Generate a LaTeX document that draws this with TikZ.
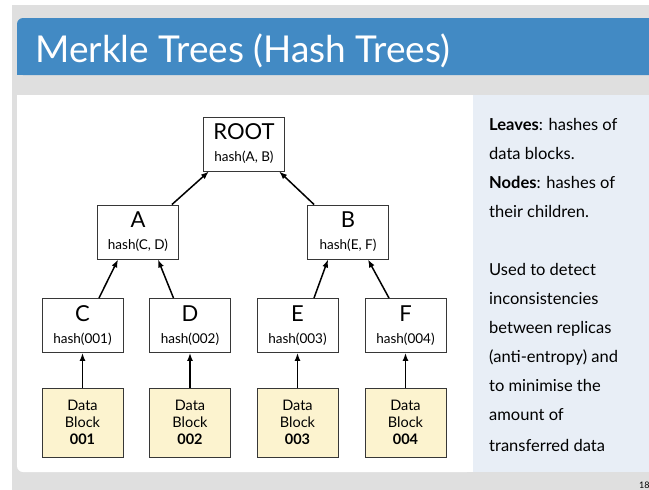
\documentclass[tikz,border=0pt]{standalone}
\usepackage{fontspec}
\setmainfont{Lato}
\usetikzlibrary{arrows.meta, positioning}
\definecolor{titleblue}{RGB}{66,138,196}
\definecolor{slidegrey}{RGB}{223,223,223}
\definecolor{sideblue}{RGB}{232,238,246}
\definecolor{blockyellow}{RGB}{252,243,207}
\definecolor{boxgrey}{RGB}{55,55,55}

\tikzset{
  hashbox/.style={draw=boxgrey, fill=white, line width=0.9pt, minimum width=81pt, minimum height=54pt, inner sep=0pt, align=center, font=\fontsize{13.5}{22}\selectfont},
  databox/.style={hashbox, fill=blockyellow, minimum height=69pt, font=\fontsize{14.5}{17}\selectfont},
  uparrow/.style={-{Latex[length=8pt,width=6pt]}, line width=1.5pt},
}
\newcommand{\hashtext}[2]{{\fontsize{22}{22}\selectfont #1}\\#2}

\begin{document}
\begin{tikzpicture}[x=1pt, y=-1pt]
    % Slide background
    \useasboundingbox (0,0) rectangle (649,490);
    \fill[white] (0,0) rectangle (649,490);
    \fill[slidegrey] (12,5) rectangle (649,490);

    % Title bar
    \fill[titleblue, rounded corners=6pt] (17,18) rectangle (670,75);
    \fill[titleblue] (17,40) rectangle (670,75);
    \node[anchor=base west, text=white, inner sep=0pt, font=\fontsize{37}{40}\selectfont] at (35,62) (title) {Merkle Trees (Hash Trees)};

    % Panels
    \fill[white, rounded corners=6pt] (17,95) rectangle (473,472);
    \fill[white] (17,95) rectangle (473,460);
    \fill[white] (40,95) rectangle (473,472);
    \fill[sideblue] (473,95) rectangle (649,472);

    % Tree nodes
    \node[hashbox] at (244,144) (root) {\hashtext{ROOT}{hash(A, B)}};
    \node[hashbox] at (138,232) (A) {\hashtext{A}{hash(C, D)}};
    \node[hashbox] at (348,232) (B) {\hashtext{B}{hash(E, F)}};
    \node[hashbox] at (82.5,325.5) (C) {\hashtext{C}{hash(001)}};
    \node[hashbox] at (190,325.5) (D) {\hashtext{D}{hash(002)}};
    \node[hashbox] at (297.5,325.5) (E) {\hashtext{E}{hash(003)}};
    \node[hashbox] at (405.5,325.5) (F) {\hashtext{F}{hash(004)}};

    % Data blocks
    \node[databox] at (82.5,422.5) (block1) {Data\\Block\\\textbf{001}};
    \node[databox] at (190,422.5) (block2) {Data\\Block\\\textbf{002}};
    \node[databox] at (297.5,422.5) (block3) {Data\\Block\\\textbf{003}};
    \node[databox] at (405.5,422.5) (block4) {Data\\Block\\\textbf{004}};

    % Hash arrows
    \draw[uparrow] (block1) -- (C);
    \draw[uparrow] (block2) -- (D);
    \draw[uparrow] (block3) -- (E);
    \draw[uparrow] (block4) -- (F);
    \draw[uparrow] (C.59) -- (A.234);
    \draw[uparrow] (D.121) -- (A.306);
    \draw[uparrow] (E.59) -- (B.234);
    \draw[uparrow] (F.121) -- (B.306);
    \draw[uparrow] (A.39) -- (root.218);
    \draw[uparrow] (B.141) -- (root.322);

    % Side notes
    \node[anchor=north west, inner sep=0pt, align=left, font=\fontsize{16.5}{29}\selectfont] at (489,118) (notes) {%
      \textbf{Leaves}: hashes of\\
      data blocks.\\
      \textbf{Nodes}: hashes of\\
      their children.\\[29pt]
      Used to detect\\
      inconsistencies\\
      between replicas\\
      (anti-entropy) and\\
      to minimise the\\
      amount of\\[2pt]
      transferred data};

    % Page number
    \node[anchor=base west, inner sep=0pt, font=\fontsize{9}{10}\selectfont] at (639,488) (pagenum) {18};
\end{tikzpicture}
\end{document}
